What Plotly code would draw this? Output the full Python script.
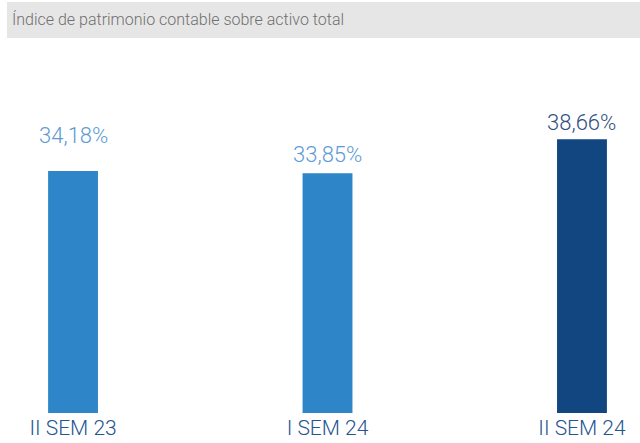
import plotly.graph_objects as go

CATEGORIES = ["II SEM 23", "I SEM 24", "II SEM 24"]
VALUES = [34.18, 33.85, 38.66]
VALUE_LABELS = ["34,18%", "33,85%", "38,66%"]
TITLE = "Índice de patrimonio contable sobre activo total"

BAR_COLORS = ["#2e86c8", "#2e86c8", "#124680"]
LABEL_COLORS = ["#5b9bd5", "#5b9bd5", "#2f4f7f"]
LABEL_SHIFTS = [23, 6, 4]
FONT = "Roboto"

fig = go.Figure(
    go.Bar(
        x=list(range(len(CATEGORIES))),
        y=VALUES,
        width=0.196,
        marker=dict(color=BAR_COLORS, line=dict(width=0)),
        hoverinfo="skip",
    )
)

for i, (v, lab) in enumerate(zip(VALUES, VALUE_LABELS)):
    fig.add_annotation(
        x=i, y=v, text=lab, showarrow=False,
        yanchor="bottom", yshift=LABEL_SHIFTS[i] - 2,
        font=dict(family=FONT, size=22, color=LABEL_COLORS[i], weight=300),
    )

# grey title band
fig.add_shape(
    type="rect", xref="paper", yref="paper",
    x0=7 / 640, x1=1, y0=1 + 2 / 373, y1=1 + 38 / 373,
    fillcolor="#e6e6e6", line=dict(width=0), layer="below",
)
fig.add_annotation(
    xref="paper", yref="paper", x=10 / 640, y=1 + 20 / 373,
    xanchor="left", yanchor="middle", showarrow=False, text=TITLE,
    font=dict(family=FONT, size=16, color="#707070", weight=300),
)

fig.update_layout(
    width=640,
    height=443,
    margin=dict(l=0, r=0, t=40, b=30),
    paper_bgcolor="#ffffff",
    plot_bgcolor="#ffffff",
    showlegend=False,
    font=dict(family=FONT),
)
fig.update_xaxes(
    range=[-0.287, 2.228],
    tickmode="array",
    tickvals=list(range(len(CATEGORIES))),
    ticktext=CATEGORIES,
    tickfont=dict(family=FONT, size=21, color="#24558f", weight=300),
    ticklabelstandoff=0,
    showgrid=False, zeroline=False, showline=False, ticks="",
    fixedrange=True,
)
fig.update_yaxes(
    range=[0, 373 / 7.08],
    visible=False, showgrid=False, zeroline=False,
    fixedrange=True,
)

fig.write_html(
    "out.html",
    config={"displayModeBar": False},
    post_script="document.body.style.margin='0';",
)
